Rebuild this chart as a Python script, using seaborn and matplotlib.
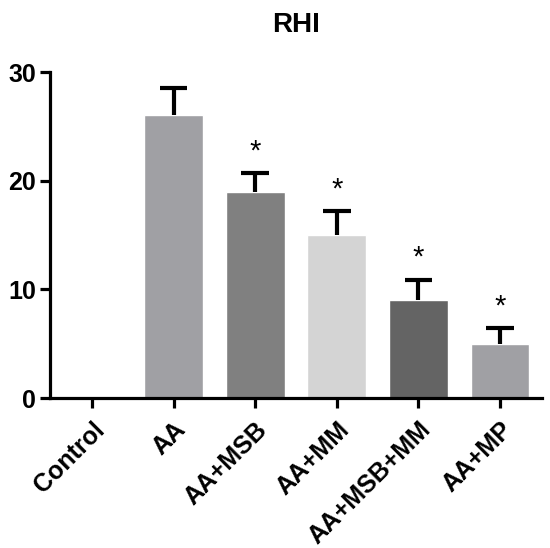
import numpy as np
import pandas as pd
import matplotlib
matplotlib.use("Agg")
import matplotlib.pyplot as plt
import seaborn as sns

groups = ["Control", "AA", "AA+MSB", "AA+MM", "AA+MSB+MM", "AA+MP"]
means = [0.0, 26.0, 19.0, 15.0, 9.0, 5.0]
errors = [0.0, 2.5, 1.7, 2.2, 1.9, 1.4]
significant = [False, False, True, True, True, True]
bar_colors = ["#a0a0a4", "#a0a0a4", "#808080", "#d4d4d4", "#646464", "#a0a0a4"]
y_ticks = [0, 10, 20, 30]

sns.set_theme(style="white")
plt.rcParams["font.family"] = ["Liberation Sans", "DejaVu Sans"]
plt.rcParams["text.color"] = "black"
plt.rcParams["xtick.color"] = "black"
plt.rcParams["ytick.color"] = "black"
plt.rcParams["axes.labelcolor"] = "black"

df = pd.DataFrame({"group": groups, "value": means})

fig = plt.figure(figsize=(5.5, 5.48), dpi=100)
ax = fig.add_axes([50/550, 1-398/548, (542-50)/550, (398-72)/548])

sns.barplot(data=df, x="group", y="value", hue="group", palette=bar_colors,
            legend=False, width=0.72, errorbar=None, ax=ax, saturation=1)

x = np.arange(len(groups))
m = np.array(means)
e = np.array(errors)
has = e > 0
ax.errorbar(x[has], m[has], yerr=[np.zeros(has.sum()), e[has]], fmt="none",
            ecolor="black", elinewidth=3, capsize=0, zorder=5)
ax.hlines((m + e)[has], x[has] - 0.17, x[has] + 0.17, colors="black",
          linewidth=3, zorder=5)
for i in range(len(groups)):
    if significant[i]:
        ax.text(x[i], means[i] + errors[i] + 0.7, "*", ha="center", va="bottom",
                fontsize=21, color="black")

ax.set_xlim(-0.515, 5.515)
ax.set_ylim(0, 30)
ax.set_yticks(y_ticks)
ax.set_xlabel("")
ax.set_ylabel("")
ax.set_title("RHI", fontsize=20, fontweight="bold", pad=29, color="black")

for s in ["top", "right"]:
    ax.spines[s].set_visible(False)
for s in ["left", "bottom"]:
    ax.spines[s].set_linewidth(2.3)
    ax.spines[s].set_color("black")

ax.tick_params(axis="both", which="major", direction="out", length=7, width=2.3,
               color="black", bottom=True, left=True)
ax.tick_params(axis="x", labelsize=18, pad=7)
ax.tick_params(axis="y", labelsize=18, pad=3)
for lab in ax.get_xticklabels():
    lab.set_rotation(45)
    lab.set_ha("right")
    lab.set_rotation_mode("anchor")
    lab.set_fontweight("bold")
for lab in ax.get_yticklabels():
    lab.set_fontweight("bold")

fig.savefig("out.png", dpi=100)
